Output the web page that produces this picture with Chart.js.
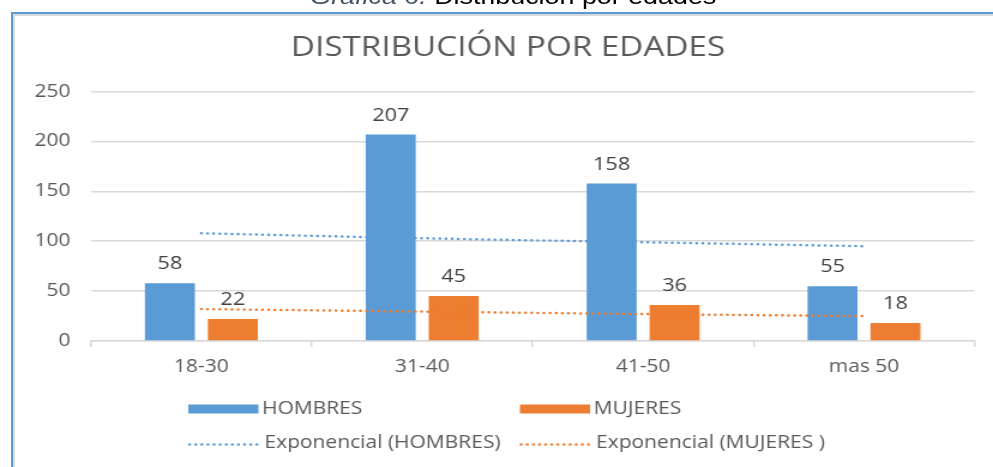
<!DOCTYPE html>
<html>
<head>
<meta charset="utf-8">
<script src="https://cdn.jsdelivr.net/npm/chart.js@4"></script>
<style>
  html, body { margin: 0; padding: 0; background: #fff; overflow: hidden; }
  #frame {
    position: absolute; left: 11px; top: 12px; width: 1000px; height: 500px;
    border-top: 2px solid #5b9bd5; border-left: 2px solid #5b9bd5;
    box-shadow: inset 2px 2px 0 #d9d9d9;
  }
  #stretch {
    position: absolute; left: 0; top: 0; width: 828px; height: 467px;
    transform: scaleX(1.1993); transform-origin: 0 0;
  }
  #caption {
    position: absolute; left: 0; width: 856px; top: -14px; text-align: center;
    font-family: "Liberation Sans", Arial, sans-serif; font-size: 22.4px; line-height: 22.4px; color: #000;
  }
  #caption i { color: #44546a; }
  canvas { position: absolute; left: 0; top: 0; }
</style>
</head>
<body>
<div id="frame"></div>
<div id="stretch">
  <div id="caption"><i>Gráfica 6.</i> Distribución por edades</div>
  <canvas id="chart" width="828" height="467"></canvas>
</div>
<script>
// datos
const categorias = ['18-30', '31-40', '41-50', 'mas 50'];
const hombres = [58, 207, 158, 55];
const mujeres = [22, 45, 36, 18];
// líneas de tendencia exponencial
const tendenciaHombres = [108, 103, 99, 95];
const tendenciaMujeres = [32, 29.5, 27, 25];
const ticksY = [0, 50, 100, 150, 200, 250];
const titulo = 'DISTRIBUCIÓN POR EDADES';

const AZUL = '#5b9bd5';
const NARANJA = '#ed7d31';
const GRIS_TEXTO = '#595959';
const FUENTE = "'Open Sans', sans-serif";
const PUNTEADO = [0.1, 5];

// título centrado como en el original (no sobre el área del gráfico)
const tituloExcel = {
  id: 'tituloExcel',
  afterDraw(chart) {
    const ctx = chart.ctx;
    ctx.save();
    ctx.font = '27.7px ' + FUENTE;
    ctx.fillStyle = GRIS_TEXTO;
    ctx.textAlign = 'center';
    ctx.textBaseline = 'middle';
    ctx.fillText(titulo, 423.6, 48);
    ctx.restore();
  }
};

// etiquetas de valor encima de las barras
const etiquetasBarras = {
  id: 'etiquetasBarras',
  afterDatasetsDraw(chart) {
    const ctx = chart.ctx;
    ctx.save();
    ctx.font = '18px ' + FUENTE;
    ctx.fillStyle = '#404040';
    ctx.textAlign = 'center';
    ctx.textBaseline = 'middle';
    chart.data.datasets.forEach((ds, i) => {
      if (ds.type !== 'bar') return;
      chart.getDatasetMeta(i).data.forEach((bar, j) => {
        ctx.fillText(ds.data[j], bar.x, bar.y - 19);
      });
    });
    ctx.restore();
  }
};

// leyenda en dos columnas como en Excel
const leyenda = {
  id: 'leyenda',
  afterDraw(chart) {
    const ctx = chart.ctx;
    const ds = chart.data.datasets;
    const cols = [157, 433.5];
    const rows = [409, 443.5];
    ctx.save();
    ctx.font = '17.5px ' + FUENTE;
    ctx.textBaseline = 'middle';
    ctx.fillStyle = GRIS_TEXTO;
    ds.forEach((d, i) => {
      const x = cols[i % 2];
      const y = rows[Math.floor(i / 2)];
      if (d.type === 'bar') {
        ctx.fillStyle = d.backgroundColor;
        ctx.fillRect(x, y - 4.5, 58.5, 9);
        ctx.fillStyle = GRIS_TEXTO;
        ctx.fillText(d.label, x + 61.5, y);
      } else {
        ctx.strokeStyle = d.borderColor;
        ctx.lineWidth = 2.5;
        ctx.lineCap = 'round';
        ctx.setLineDash(d.borderDash);
        ctx.beginPath();
        ctx.moveTo(x + 1, y + 1);
        ctx.lineTo(x + 58.5, y + 1);
        ctx.stroke();
        ctx.setLineDash([]);
        ctx.fillStyle = GRIS_TEXTO;
        ctx.fillText(d.label, x + 63.5, y);
      }
    });
    ctx.restore();
  }
};

new Chart(document.getElementById('chart'), {
  data: {
    labels: categorias,
    datasets: [
      { type: 'bar', label: 'HOMBRES', data: hombres, backgroundColor: AZUL, order: 1,
        categoryPercentage: 0.57, barPercentage: 0.794 },
      { type: 'bar', label: 'MUJERES', data: mujeres, backgroundColor: NARANJA, order: 1,
        categoryPercentage: 0.57, barPercentage: 0.794 },
      { type: 'line', label: 'Exponencial (HOMBRES)', data: tendenciaHombres, order: 0,
        borderColor: AZUL, borderWidth: 2.5, borderDash: PUNTEADO, borderCapStyle: 'round',
        pointRadius: 0, cubicInterpolationMode: 'monotone', fill: false },
      { type: 'line', label: 'Exponencial (MUJERES )', data: tendenciaMujeres, order: 0,
        borderColor: NARANJA, borderWidth: 2.5, borderDash: PUNTEADO, borderCapStyle: 'round',
        pointRadius: 0, cubicInterpolationMode: 'monotone', fill: false }
    ]
  },
  options: {
    responsive: false,
    animation: false,
    layout: { padding: { top: 91.6, left: 0, right: 15.5, bottom: 0 } },
    plugins: {
      legend: { display: false },
      tooltip: { enabled: false },
      title: { display: false }
    },
    scales: {
      x: {
        offset: true,
        grid: { offset: true, drawOnChartArea: false, drawTicks: true, tickLength: 6, color: '#d9d9d9', lineWidth: 1.5 },
        border: { color: '#d9d9d9', width: 1.5 },
        ticks: { color: GRIS_TEXTO, font: { family: FUENTE, size: 17.5 }, padding: 10 },
        afterFit(scale) { scale.height = 126; }
      },
      y: {
        min: 0, max: 250,
        afterBuildTicks(scale) { scale.ticks = ticksY.map(v => ({ value: v })); },
        grid: { drawTicks: false, color: '#d9d9d9', lineWidth: 1.5 },
        border: { display: false },
        ticks: { color: GRIS_TEXTO, font: { family: FUENTE, size: 17.5 }, padding: 17 },
        afterFit(scale) { scale.width = 75.8; }
      }
    }
  },
  plugins: [tituloExcel, etiquetasBarras, leyenda]
});
</script>
</body>
</html>
